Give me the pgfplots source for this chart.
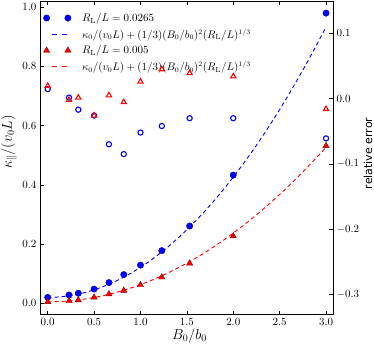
\documentclass[border=0pt]{standalone}
\usepackage{pgfplots}
\pgfplotsset{compat=1.18}
\usepackage{fontspec}
\newfontfamily\dejavu{DejaVu Sans}
\usetikzlibrary{calc}

\pgfplotsset{
  mplbase/.style={
    scale only axis, width=293pt, height=313.7pt,
    xmin=-0.083, xmax=3.075,
    tick align=inside, major tick length=4pt,
    every tick/.style={black, line width=0.5pt},
    axis line style={line width=0.8pt},
    tick label style={font=\fontsize{10.5}{12}\selectfont},
  },
  bluelegend/.style={legend image code/.code={%
    \filldraw[fill=blue, draw=blue!70!black, line width=0.4pt] (0pt,0pt) circle[radius=3.2pt];
    \filldraw[fill=blue, draw=blue!70!black, line width=0.4pt] (21.3pt,0pt) circle[radius=3.2pt];
    \path (33pt,0pt);}},
  redlegend/.style={legend image code/.code={%
    \filldraw[fill=red, draw=red!50!black, line width=0.4pt] (0pt,3.6pt) -- (-3.12pt,-1.8pt) -- (3.12pt,-1.8pt) -- cycle;
    \filldraw[fill=red, draw=red!50!black, line width=0.4pt] (21.3pt,3.6pt) -- (18.18pt,-1.8pt) -- (24.42pt,-1.8pt) -- cycle;
    \path (33pt,0pt);}},
  shortdash/.style={legend image code/.code={\draw[##1, dash pattern=on 5pt off 5pt] (5.3pt,0pt) -- (20.3pt,0pt); \path (33pt,0pt);}},
  bluedot/.style={mark=*, mark size=3.2pt, mark options={solid, fill=blue, draw=blue!70!black, line width=0.4pt}},
  redtri/.style={mark=triangle*, mark size=3.6pt, mark options={solid, fill=red, draw=red!50!black, line width=0.4pt}},
}

\begin{document}
\begin{tikzpicture}
\begin{axis}[
  mplbase,
  ymin=-0.0385, ymax=1.021,
  xtick={0,0.5,...,3.0}, ytick={0,0.2,...,1.0},
  xtick pos=both, ytick pos=left,
  axis y line*=left,
  axis x line*=box,
  xticklabel style={/pgf/number format/.cd, fixed, fixed zerofill, precision=1},
  yticklabel style={/pgf/number format/.cd, fixed, fixed zerofill, precision=1},
  xlabel={$B_0/b_0$}, ylabel={$\kappa_\parallel/(v_0L)$},
  label style={font=\fontsize{14}{16}\selectfont},
  xlabel style={at={(rel axis cs:0.51,0)}, anchor=center, yshift=-21pt},
  ylabel style={at={(rel axis cs:0,0.55)}, anchor=center, yshift=31pt},
  legend style={at={(rel axis cs:0,1)}, anchor=north west, draw=none, fill=none,
    font=\fontsize{10.5}{12}\selectfont, xshift=0pt, yshift=-8pt, row sep=2pt, cells={anchor=west}},
  legend cell align=left,
]
\addlegendimage{bluelegend}
\addlegendentry{$R_{\mathrm{L}}/L=0.0265$}
\addplot[only marks, bluedot, forget plot]
  coordinates {(0,0.020) (0.23,0.028) (0.33,0.034) (0.5,0.048) (0.66,0.070) (0.82,0.097) (1.0,0.129) (1.23,0.178) (1.53,0.261) (2.0,0.433) (3.0,0.980)};
\addplot[blue, line width=0.9pt, dash pattern=on 4pt off 3pt, shortdash]
  coordinates {(0.0,0.0200) (0.1,0.0210) (0.2,0.0241) (0.3,0.0291) (0.4,0.0362) (0.5,0.0454) (0.6,0.0565) (0.7,0.0697) (0.8,0.0850) (0.9,0.1022) (1.0,0.1215) (1.1,0.1428) (1.2,0.1662) (1.3,0.1915) (1.4,0.2189) (1.5,0.2484) (1.6,0.2798) (1.7,0.3133) (1.8,0.3489) (1.9,0.3864) (2.0,0.4260) (2.1,0.4676) (2.2,0.5113) (2.3,0.5569) (2.4,0.6046) (2.5,0.6544) (2.6,0.7061) (2.7,0.7599) (2.8,0.8158) (2.9,0.8736) (3.0,0.9335)};
\addlegendentry{$\kappa_0/(v_0L)+(1/3)(B_0/b_0)^2(R_{\mathrm{L}}/L)^{1/3}$}
\addlegendimage{redlegend}
\addlegendentry{$R_{\mathrm{L}}/L=0.005$}
\addplot[only marks, redtri, forget plot]
  coordinates {(0,0.005) (0.23,0.008) (0.33,0.011) (0.5,0.020) (0.66,0.031) (0.82,0.043) (1.0,0.062) (1.23,0.088) (1.53,0.135) (2.0,0.227) (3.0,0.532)};
\addplot[red, line width=0.9pt, dash pattern=on 4pt off 3pt, shortdash]
  coordinates {(0.0,0.0050) (0.1,0.0056) (0.2,0.0073) (0.3,0.0102) (0.4,0.0143) (0.5,0.0195) (0.6,0.0259) (0.7,0.0334) (0.8,0.0421) (0.9,0.0520) (1.0,0.0630) (1.1,0.0752) (1.2,0.0885) (1.3,0.1030) (1.4,0.1187) (1.5,0.1355) (1.6,0.1535) (1.7,0.1726) (1.8,0.1929) (1.9,0.2144) (2.0,0.2370) (2.1,0.2608) (2.2,0.2857) (2.3,0.3118) (2.4,0.3391) (2.5,0.3675) (2.6,0.3971) (2.7,0.4278) (2.8,0.4597) (2.9,0.4928) (3.0,0.5270)};
\addlegendentry{$\kappa_0/(v_0L)+(1/3)(B_0/b_0)^2(R_{\mathrm{L}}/L)^{1/3}$}
\coordinate (bl) at (rel axis cs:0,0);
\coordinate (tr) at (rel axis cs:1,1);
\end{axis}
\begin{axis}[
  mplbase,
  ymin=-0.331, ymax=0.1495,
  axis y line*=right, axis x line=none,
  ytick={-0.3,-0.2,...,0.1},
  yticklabel style={/pgf/number format/.cd, fixed, fixed zerofill, precision=1},
  ylabel={\dejavu\fontsize{11}{13}\selectfont relative error},
  ylabel style={at={(rel axis cs:1,0.514)}, anchor=center, yshift=-35pt},
]
\addplot[only marks, mark=o, mark size=2.6pt, mark options={draw=blue, line width=1.1pt}]
  coordinates {(0,0.0145) (0.23,0.0015) (0.33,-0.017) (0.5,-0.026) (0.66,-0.070) (0.82,-0.085) (1.0,-0.052) (1.23,-0.042) (1.53,-0.030) (2.0,-0.030) (3.0,-0.061)};
\addplot[only marks, mark=triangle, mark size=3.0pt, mark options={draw=red, line width=1.1pt}]
  coordinates {(0,0.0195) (0.23,-0.002) (0.33,0.0015) (0.5,-0.026) (0.66,0.005) (0.82,-0.0055) (1.0,0.026) (1.23,0.045) (1.53,0.039) (2.0,0.034) (3.0,-0.016)};
\end{axis}
\pgfresetboundingbox
\useasboundingbox ($(bl)+(-40pt,-30pt)$) rectangle ($(tr)+(41pt,1pt)$);
\end{tikzpicture}
\end{document}
